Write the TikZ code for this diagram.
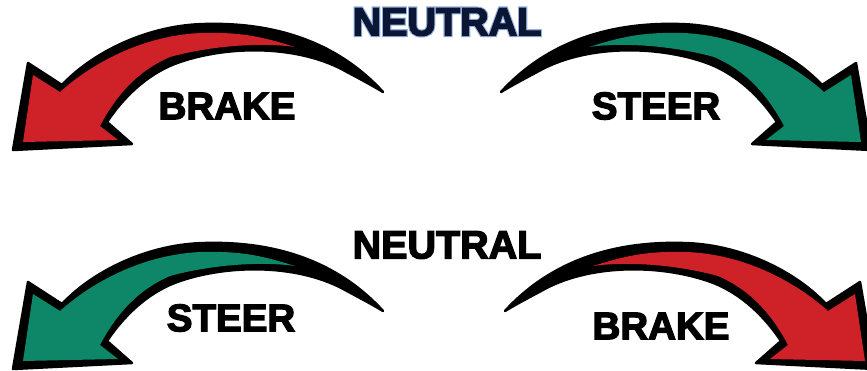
\documentclass[tikz,border=0pt]{standalone}
\usepackage{fontspec}
\setmainfont{Liberation Sans}[BoldFeatures={FakeBold=3.5}]
\newfontfamily\glowfont{Liberation Sans}[UprightFont=*-Bold, FakeBold=9]
\definecolor{brakered}{RGB}{206,33,40}
\definecolor{steergreen}{RGB}{14,135,104}
\definecolor{navy}{RGB}{10,22,52}
\definecolor{glowblue}{RGB}{150,175,220}
\tikzset{
  bigarrow/.pic={
    \fill[black, draw=black, line width=2.5pt, line join=round]
      (383,92) .. controls (340,45) and (280,22) .. (205,24)
      .. controls (148,25) and (93,52) .. (62,85)
      -- (28,63) -- (13,150) -- (132,144) -- (107,122)
      .. controls (125,95) and (150,72) .. (180,62)
      .. controls (230,45) and (300,45) .. (347,72)
      .. controls (362,80) and (375,87) .. cycle;
    \fill[#1]
      (295,47) .. controls (260,36) and (240,32) .. (200,33)
      .. controls (140,36) and (90,65) .. (60,92)
      -- (33,75) -- (23,142) -- (118,140) -- (100,126)
      .. controls (118,92) and (140,70) .. (170,57)
      .. controls (210,46) and (260,42) .. cycle;
  },
  word/.style={font=\bfseries\fontsize{38.5}{38.5}\selectfont, inner sep=0pt, text=black},
  bigword/.style={font=\bfseries\fontsize{39.5}{39.5}\selectfont, inner sep=0pt, text=black}
}
\begin{document}
\begin{tikzpicture}[x=1pt, y=-1pt]
  \useasboundingbox[fill=white] (0,0) rectangle (867,371);
  % top row
  \pic (arrTL) at (0,0) {bigarrow=brakered};
  \pic[xscale=-1] (arrTR) at (884,0) {bigarrow=steergreen};
  % bottom row
  \pic (arrBL) at (0,219) {bigarrow=steergreen};
  \pic[xscale=-1] (arrBR) at (888,219) {bigarrow=brakered};
  % labels
  \node[inner sep=0pt, text=glowblue, font=\glowfont\fontsize{39.5}{39.5}\selectfont] (neutralGlow) at (447,22) {NEUTRAL};
  \node[bigword, text=navy] (neutralA) at (447,22) {NEUTRAL};
  \node[word] (brakeA) at (227,106) {BRAKE};
  \node[word] (steerA) at (656,106) {STEER};
  \node[bigword] (neutralB) at (447,245) {NEUTRAL};
  \node[word] (steerB) at (231,318) {STEER};
  \node[word] (brakeB) at (661,326) {BRAKE};
\end{tikzpicture}
\end{document}
